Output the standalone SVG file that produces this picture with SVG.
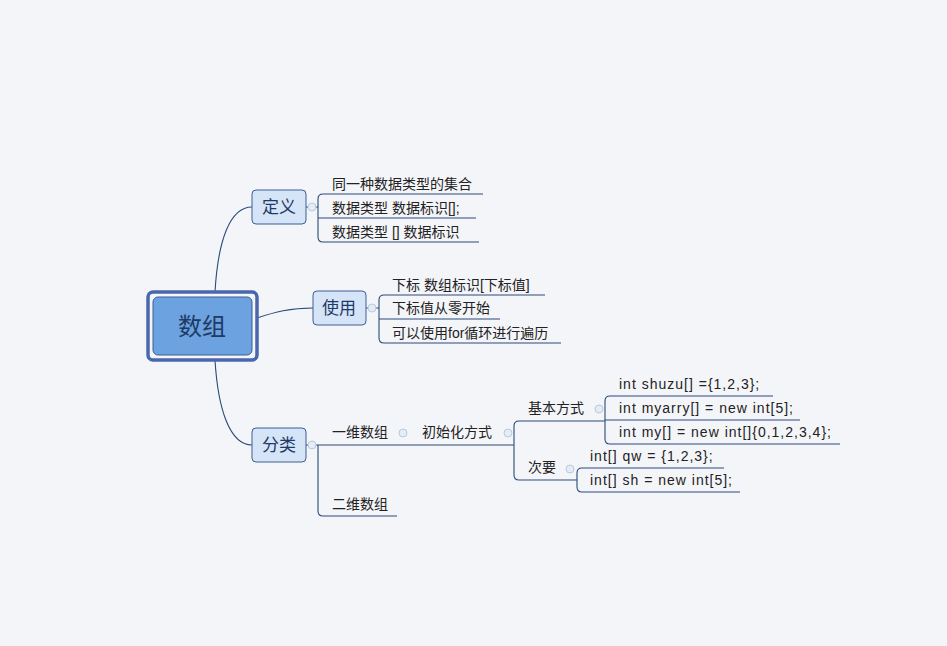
<svg xmlns="http://www.w3.org/2000/svg" width="947" height="646" viewBox="0 0 947 646">
<style>
.t{font-family:"Liberation Sans","Noto Sans CJK SC",sans-serif;font-size:14px;fill:#222}
.k{letter-spacing:1px}
.n{font-family:"Liberation Sans","Noto Sans CJK SC",sans-serif;font-size:17px;fill:#1f3a66;text-anchor:middle}
.l{fill:none;stroke:#2a4a7a;stroke-width:1.1}
.b{fill:#d6e4f8;stroke:#3d5f95;stroke-width:1}
.c{fill:#e4ecf6;stroke:#b9c9de;stroke-width:1}
</style>
<rect width="947" height="646" fill="#f4f5f9"/>
<g id="connectors">
<path class="l" d="M215 292 C218 240 230 207 252 207"/>
<path class="l" d="M257 318 C275 312 290 308 313 308"/>
<path class="l" d="M215 360 C218 410 230 445 252 445"/>
<path class="l" d="M306 207 H318 M483 194 H323 Q318 194 318 199 V237 Q318 242 323 242 H479 M318 218 H476"/>
<path class="l" d="M366 308 H379 M545 295 H384 Q379 295 379 300 V338 Q379 343 384 343 H561 M379 319 H500"/>
<path class="l" d="M306 445 H318 M318 445 V511 Q318 516 323 516 H397 M318 445 H514"/>
<path class="l" d="M605 421 H519 Q514 421 514 426 V475 Q514 480 519 480 H577"/>
<path class="l" d="M773 396 H610 Q605 396 605 401 V439 Q605 444 610 444 H840 M605 420 H800"/>
<path class="l" d="M724 468 H582 Q577 468 577 473 V487 Q577 492 582 492 H740"/>
<circle class="c" cx="312" cy="207" r="4"/>
<circle class="c" cx="372" cy="308" r="4"/>
<circle class="c" cx="312" cy="445" r="4"/>
<circle class="c" cx="403" cy="433" r="4"/>
<circle class="c" cx="508" cy="433" r="4"/>
<circle class="c" cx="599" cy="409" r="4"/>
<circle class="c" cx="570" cy="469" r="4"/>
</g>
<g id="root">
<rect x="148" y="292" width="109" height="68" rx="5" fill="#f4f5f9" stroke="#4a67ad" stroke-width="3.5"/>
<rect x="153" y="297" width="99" height="58" rx="5" fill="#6ba2df" stroke="#3d5f95"/>
<text class="n" x="202" y="335" style="font-size:24px">数组</text>
</g>
<g id="def"><rect class="b" x="252" y="190" width="54" height="34" rx="4"/><text class="n" x="279" y="213">定义</text></g>
<g id="use"><rect class="b" x="313" y="291" width="53" height="34" rx="4"/><text class="n" x="339" y="314">使用</text></g>
<g id="cls"><rect class="b" x="252" y="428" width="54" height="34" rx="4"/><text class="n" x="279" y="451">分类</text></g>
<g id="leaves">
<text class="t" x="332" y="189">同一种数据类型的集合</text>
<text class="t" x="332" y="213">数据类型 数据标识[];</text>
<text class="t" x="332" y="237">数据类型  []  数据标识</text>
<text class="t" x="392" y="290">下标 数组标识[下标值]</text>
<text class="t" x="392" y="313">下标值从零开始</text>
<text class="t" x="392" y="338">可以使用for循环进行遍历</text>
<text class="t" x="332" y="437">一维数组</text>
<text class="t" x="422" y="437">初始化方式</text>
<text class="t" x="528" y="413">基本方式</text>
<text class="t" x="528" y="472">次要</text>
<text class="t k" x="619" y="389">int shuzu[] ={1,2,3};</text>
<text class="t k" x="619" y="413">int myarry[] = new int[5];</text>
<text class="t k" x="619" y="437">int my[] = new int[]{0,1,2,3,4};</text>
<text class="t k" x="590" y="461">int[] qw = {1,2,3};</text>
<text class="t k" x="590" y="485">int[] sh = new int[5];</text>
<text class="t" x="332" y="509">二维数组</text>
</g>
</svg>
